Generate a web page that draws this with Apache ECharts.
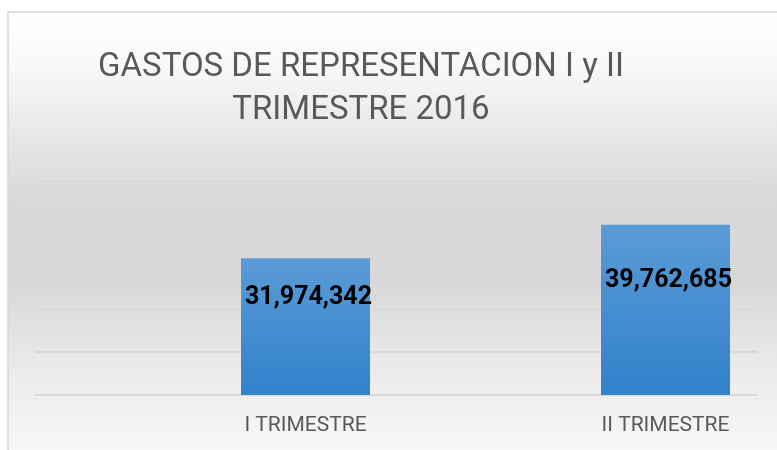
<!DOCTYPE html>
<html><head><meta charset="utf-8">
<script src="https://cdn.jsdelivr.net/npm/echarts@6/dist/echarts.min.js"></script>
<style>html,body{margin:0;padding:0;background:#fff}#c{width:777px;height:450px}</style>
</head><body><div id="c"></div>
<script>
const titleText = "GASTOS DE REPRESENTACION I y II\nTRIMESTRE 2016";
const categories = ["I TRIMESTRE", "II TRIMESTRE"];
const values = [31974342, 39762685];
const yMax = 50000000;
const yStep = 10000000;

const FONT = 'Roboto';
const chart = echarts.init(document.getElementById('c'), null, {renderer: 'canvas'});
const fmt = v => v.toLocaleString('en-US');
const option = {
  animation: false,
  backgroundColor: '#ffffff',
  graphic: [{
    type: 'rect', z: -10, silent: true,
    shape: {x: 8, y: 12, width: 800, height: 460},
    style: {
      fill: new echarts.graphic.LinearGradient(0, 0, 0, 1, [
        {offset: 0, color: '#ffffff'},
        {offset: 0.12, color: '#f8f8f8'},
        {offset: 0.4, color: '#d9d9d9'},
        {offset: 0.58, color: '#d7d7d7'},
        {offset: 0.78, color: '#ebebeb'},
        {offset: 1, color: '#fbfbfb'}
      ]),
      stroke: '#d6d6d6', lineWidth: 1.5
    }
  }],
  title: {
    text: titleText,
    left: 356, top: 41, textAlign: 'center',
    textStyle: {fontFamily: FONT, fontWeight: 'normal', fontSize: 33, color: '#595959', lineHeight: 43}
  },
  grid: [
    {left: 35, right: 20, top: 181, bottom: 55, outerBoundsMode: 'none', containLabel: false},
    {left: 125.5, width: 720, top: 181, bottom: 55, outerBoundsMode: 'none', containLabel: false}
  ],
  xAxis: [
    {gridIndex: 0, type: 'category', data: categories, show: false},
    {gridIndex: 1, type: 'category', data: categories,
     axisLine: {show: false}, axisTick: {show: false},
     axisLabel: {margin: 20, fontFamily: FONT, fontSize: 21, color: '#595959'}}
  ],
  yAxis: [
    {gridIndex: 0, type: 'value', min: 0, max: yMax, interval: yStep,
     axisLabel: {show: false}, axisLine: {show: false}, axisTick: {show: false},
     splitLine: {lineStyle: {color: '#d8d8d8', width: 2}}},
    {gridIndex: 1, type: 'value', min: 0, max: yMax, interval: yStep, show: false, splitLine: {show: false}}
  ],
  series: [{
    type: 'bar', xAxisIndex: 1, yAxisIndex: 1,
    data: values, barWidth: 129,
    itemStyle: {
      color: new echarts.graphic.LinearGradient(0, 0, 0, 1, [
        {offset: 0, color: '#5b9bd6'},
        {offset: 1, color: '#3181cb'}
      ])
    },
    label: {
      show: true, position: 'inside', offset: [3, -29],
      formatter: p => fmt(p.value),
      fontFamily: FONT, fontWeight: 'bold', fontSize: 25, color: '#000000'
    }
  }]
};
chart.setOption(option);
</script></body></html>
